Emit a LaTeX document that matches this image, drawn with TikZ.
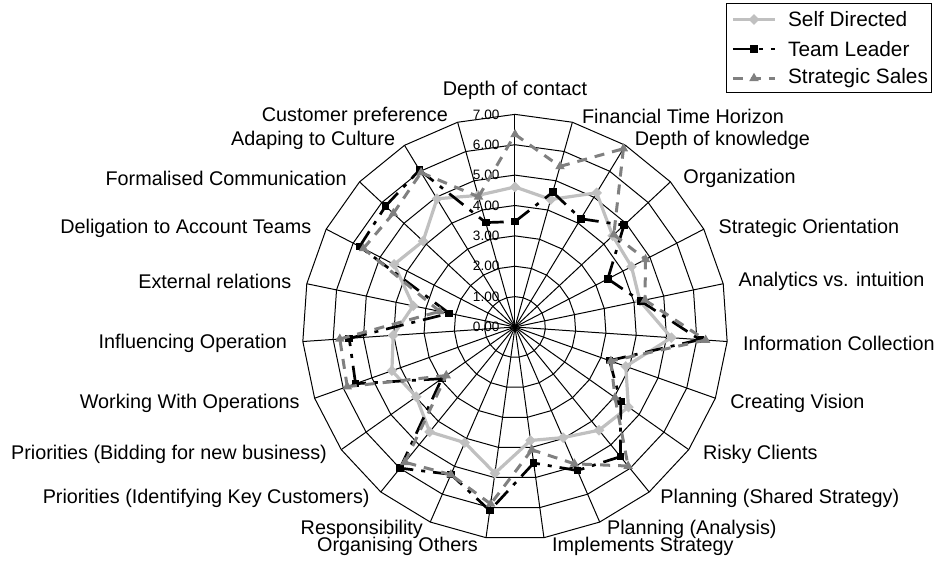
\documentclass[tikz,border=0pt]{standalone}
\usepackage{fontspec}
\setmainfont{Liberation Sans}
\usetikzlibrary{shapes.geometric}
\definecolor{selfgray}{RGB}{192,192,192}
\definecolor{stratgray}{RGB}{128,128,128}

\tikzset{
  gridline/.style={black, line width=0.5pt},
  axislabel/.style={font=\fontsize{9.9}{11}\selectfont, inner sep=0pt},
  vallabel/.style={font=\fontsize{6.8}{8}\selectfont, inner sep=0pt, anchor=east},
  legtext/.style={font=\fontsize{10.4}{12}\selectfont, inner sep=0pt, anchor=west},
  selfline/.style={selfgray, line width=1.6pt, line join=round},
  teamline/.style={black, line width=1.35pt, dash pattern=on 9pt off 4pt on 2pt off 4pt},
  stratline/.style={stratgray, line width=1.5pt, dash pattern=on 5pt off 4pt},
  selfmark/.style={diamond, fill=selfgray, minimum size=5.5pt, inner sep=0pt},
  teammark/.style={rectangle, fill=black, minimum size=3.8pt, inner sep=0pt},
  stratmark/.style={regular polygon, regular polygon sides=3, fill=stratgray, minimum size=5.5pt, inner sep=0pt}
}

\begin{document}
\begin{tikzpicture}[x=0.5pt,y=0.5pt]
\useasboundingbox (-515,-237) rectangle (423,327);

\begin{scope}[x=15.19pt,y=15.19pt]
% rings and spokes
\foreach \r in {1,...,7}
  \draw[gridline] (90:\r) \foreach \k in {1,...,22}{ -- ({90-\k*360/23}:\r)} -- cycle;
\foreach \k in {0,...,22}
  \draw[gridline] (0,0) -- ({90-\k*360/23}:7);
\foreach \r in {0,...,7}
  \node[vallabel] (val\r) at (-0.5,\r) {\r.00};

% data points
\foreach \v [count=\k from 0] in {4.61,4.36,5.17,4.40,4.32,4.20,5.16,3.87,4.57,4.38,3.97,3.77,4.86,4.15,4.45,3.98,4.30,4.02,3.42,4.48,4.14,4.94,4.50}
  \coordinate (sd\k) at ({90-\k*360/23}:\v);
\foreach \v [count=\k from 0] in {3.47,4.61,4.17,4.91,3.44,4.22,6.10,3.30,4.26,5.50,5.15,4.52,6.10,5.29,5.99,2.95,5.57,5.47,2.21,5.76,5.83,6.05,3.57}
  \coordinate (tl\k) at ({90-\k*360/23}:\v);
\foreach \v [count=\k from 0] in {6.34,5.49,6.87,4.45,4.84,4.37,6.29,3.35,4.03,5.90,4.91,4.08,5.88,5.30,5.74,2.77,5.86,5.78,2.53,5.62,5.48,5.95,4.45}
  \coordinate (ss\k) at ({90-\k*360/23}:\v);

% Self Directed
\draw[selfline] (sd0) \foreach \k in {1,...,22}{ -- (sd\k)} -- cycle;
\foreach \k in {0,...,22}
  \node[selfmark] (sdm\k) at (sd\k) {};
% Team Leader
\foreach \k [remember=\k as \j (initially 22)] in {0,...,22}
  \draw[teamline] (tl\j) -- (tl\k);
\foreach \k in {0,...,22}
  \node[teammark] (tlm\k) at (tl\k) {};
% Strategic Sales
\foreach \k [remember=\k as \j (initially 22)] in {0,...,22}
  \draw[stratline] (ss\j) -- (ss\k);
\foreach \k in {0,...,22}
  \node[stratmark] (ssm\k) at (ss\k) {};
\end{scope}

% category labels
\node[axislabel] (lab0) at (0,237) {Depth of contact};
\node[axislabel, anchor=west] (lab1) at (66.7,210.3) {Financial Time Horizon};
\node[axislabel, anchor=west] (lab2) at (119.5,187) {Depth of knowledge};
\node[axislabel, anchor=west] (lab3) at (168,148.7) {Organization};
\node[axislabel, anchor=west] (lab4) at (203.3,98.7) {Strategic Orientation};
\node[axislabel, anchor=west] (lab5) at (223.3,45.3) {Analytics vs. intuition};
\node[axislabel, anchor=west] (lab6) at (227.7,-16.3) {Information Collection};
\node[axislabel, anchor=west] (lab7) at (215,-76.3) {Creating Vision};
\node[axislabel, anchor=west] (lab8) at (187.7,-127) {Risky Clients};
\node[axislabel, anchor=west] (lab9) at (145,-171.3) {Planning (Shared Strategy)};
\node[axislabel, anchor=west] (lab10) at (91.7,-202.3) {Planning (Analysis)};
\node[axislabel, anchor=west] (lab11) at (36.7,-219.7) {Implements Strategy};
\node[axislabel, anchor=east] (lab12) at (-36.7,-219.7) {Organising Others};
\node[axislabel, anchor=east] (lab13) at (-91.7,-202.3) {Responsibility};
\node[axislabel, anchor=east] (lab14) at (-145,-171.3) {Priorities (Identifying Key Customers)};
\node[axislabel, anchor=east] (lab15) at (-187.7,-127) {Priorities (Bidding for new business)};
\node[axislabel, anchor=east] (lab16) at (-215,-76.3) {Working With Operations};
\node[axislabel, anchor=east] (lab17) at (-227.7,-16.3) {Influencing Operation};
\node[axislabel, anchor=east] (lab18) at (-223.3,45.3) {External relations};
\node[axislabel, anchor=east] (lab19) at (-203.3,98.7) {Deligation to Account Teams};
\node[axislabel, anchor=east] (lab20) at (-168,148.7) {Formalised Communication};
\node[axislabel, anchor=east] (lab21) at (-119.5,187) {Adaping to Culture};
\node[axislabel, anchor=east] (lab22) at (-66.7,210.3) {Customer preference};

% legend
\draw[gridline] (212,324) rectangle (416,235);
\coordinate (lgsA) at (218,307.5);
\coordinate (lgsB) at (260,307.5);
\draw[selfline] (lgsA) -- (lgsB);
\node[selfmark] (lgsm) at (239,307.5) {};
\node[legtext] (lgst) at (272.7,307.5) {Self Directed};
\coordinate (lgtA) at (218,278);
\coordinate (lgtB) at (260,278);
\draw[teamline] (lgtA) -- (lgtB);
\node[teammark] (lgtm) at (239,278) {};
\node[legtext] (lgtt) at (272.7,278) {Team Leader};
\coordinate (lgaA) at (218,248.7);
\coordinate (lgaB) at (260,248.7);
\draw[stratline] (lgaA) -- (lgaB);
\node[stratmark] (lgam) at (239,248.7) {};
\node[legtext] (lgat) at (272.7,248.7) {Strategic Sales};
\end{tikzpicture}
\end{document}
